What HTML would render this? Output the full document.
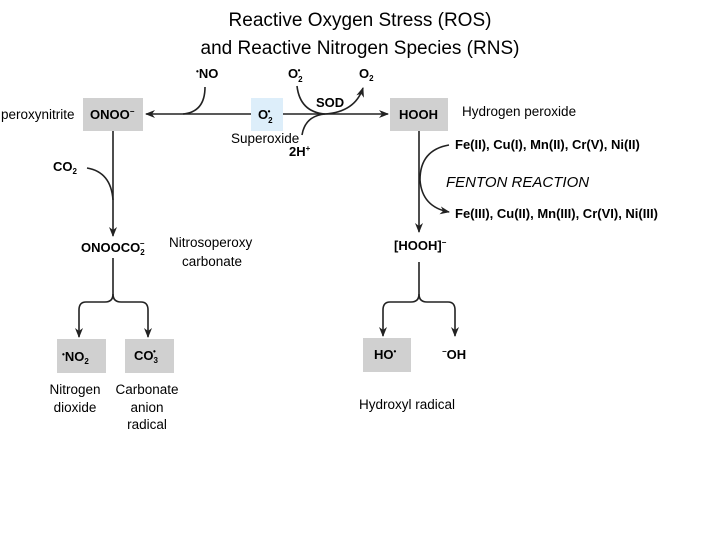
<!DOCTYPE html>
<html><head><meta charset="utf-8"><style>
body{margin:0;background:#fff;width:720px;height:540px;overflow:hidden}
svg text{font-family:"Liberation Sans",Arial,sans-serif}
.b{font-weight:bold;font-size:13px}
.n{font-size:13.5px}
</style></head><body>
<svg width="720" height="540" viewBox="0 0 720 540" xmlns="http://www.w3.org/2000/svg">
<defs><marker id="a" markerWidth="10" markerHeight="8" refX="9" refY="4" orient="auto" markerUnits="userSpaceOnUse"><path d="M0,0 L10,4 L0,8 L3,4z" fill="#222"/></marker></defs>
<text x="360" y="26" font-size="19" text-anchor="middle">Reactive Oxygen Stress (ROS)</text>
<text x="360" y="54" font-size="19" text-anchor="middle">and Reactive Nitrogen Species (RNS)</text>
<rect x="83" y="98" width="60" height="33" fill="#d0d0d0"/>
<rect x="251" y="98" width="32" height="33" fill="#ddeefa"/>
<rect x="390" y="98" width="58" height="33" fill="#d0d0d0"/>
<rect x="57" y="339" width="49" height="34" fill="#d0d0d0"/>
<rect x="125" y="339" width="49" height="34" fill="#d0d0d0"/>
<rect x="363" y="338" width="48" height="34" fill="#d0d0d0"/>
<g stroke="#222" stroke-width="1.6" fill="none">
<line x1="251" y1="114" x2="146" y2="114" marker-end="url(#a)"/>
<line x1="283" y1="114" x2="388" y2="114" marker-end="url(#a)"/>
<path d="M205,87 Q205,112 183,114"/>
<path d="M297,86 Q300,112 325,114 Q355,112 363,88" marker-end="url(#a)"/>
<path d="M302,135 Q305,116 325,114"/>
<line x1="113" y1="131" x2="113" y2="236" marker-end="url(#a)"/>
<path d="M87,168 Q111,172 113,200"/>
<path d="M113,258 V294 Q113,302 105,302 H86 Q79,302 79,310 V337" marker-end="url(#a)"/>
<path d="M113,294 Q113,302 121,302 H141 Q148,302 148,310 V337" marker-end="url(#a)"/>
<line x1="419" y1="131" x2="419" y2="232" marker-end="url(#a)"/>
<path d="M449,145 Q420,150 420,180 Q422,207 449,212" marker-end="url(#a)"/>
<path d="M419,262 V294 Q419,302 411,302 H390 Q383,302 383,310 V336" marker-end="url(#a)"/>
<path d="M419,294 Q419,302 427,302 H448 Q455,302 455,310 V336" marker-end="url(#a)"/>
</g>
<text x="1" y="119" class="n">peroxynitrite</text>
<text x="90" y="119" class="b">ONOO<tspan dy="-5" font-size="8">−</tspan></text>
<text x="196" y="78" class="b"><tspan font-size="8" dy="-4">•</tspan><tspan dy="4">NO</tspan></text>
<text x="288" y="78" class="b">O<tspan font-size="8" dy="4">2</tspan><tspan font-size="8" dx="-5" dy="-9">•</tspan></text>
<text x="359" y="78" class="b">O<tspan font-size="8" dy="3">2</tspan></text>
<text x="316" y="107" class="b">SOD</text>
<text x="258" y="119" class="b">O<tspan font-size="8" dy="4">2</tspan><tspan font-size="8" dx="-5" dy="-9">•</tspan></text>
<text x="231" y="143" class="n">Superoxide</text>
<text x="289" y="156" class="b">2H<tspan font-size="8" dy="-5">+</tspan></text>
<text x="399" y="119" class="b">HOOH</text>
<text x="462" y="116" class="n">Hydrogen peroxide</text>
<text x="455" y="149" class="b">Fe(II), Cu(I), Mn(II), Cr(V), Ni(II)</text>
<text x="446" y="187" font-size="15" font-style="italic">FENTON REACTION</text>
<text x="455" y="218" class="b">Fe(III), Cu(II), Mn(III), Cr(VI), Ni(III)</text>
<text x="53" y="171" class="b">CO<tspan font-size="8" dy="3">2</tspan></text>
<text x="81" y="252" class="b">ONOOCO<tspan font-size="8" dy="3">2</tspan><tspan font-size="8" dx="-5" dy="-9">−</tspan></text>
<text x="169" y="247" class="n">Nitrosoperoxy</text>
<text x="182" y="266" class="n">carbonate</text>
<text x="394" y="250" class="b">[HOOH]<tspan font-size="8" dy="-5">−</tspan></text>
<text x="62" y="361" class="b"><tspan font-size="8" dy="-4">•</tspan><tspan dy="4">NO</tspan><tspan font-size="8" dy="3">2</tspan></text>
<text x="134" y="360" class="b">CO<tspan font-size="8" dy="3">3</tspan><tspan font-size="8" dx="-5" dy="-9">•</tspan></text>
<text x="374" y="359" class="b">HO<tspan font-size="8" dy="-5">•</tspan></text>
<text x="442" y="359" class="b"><tspan font-size="8" dy="-5">−</tspan><tspan dy="5">OH</tspan></text>
<text x="75" y="394" class="n" text-anchor="middle">Nitrogen</text>
<text x="75" y="412" class="n" text-anchor="middle">dioxide</text>
<text x="147" y="394" class="n" text-anchor="middle">Carbonate</text>
<text x="147" y="412" class="n" text-anchor="middle">anion</text>
<text x="147" y="429" class="n" text-anchor="middle">radical</text>
<text x="359" y="409" class="n">Hydroxyl radical</text>
</svg>
</body></html>
